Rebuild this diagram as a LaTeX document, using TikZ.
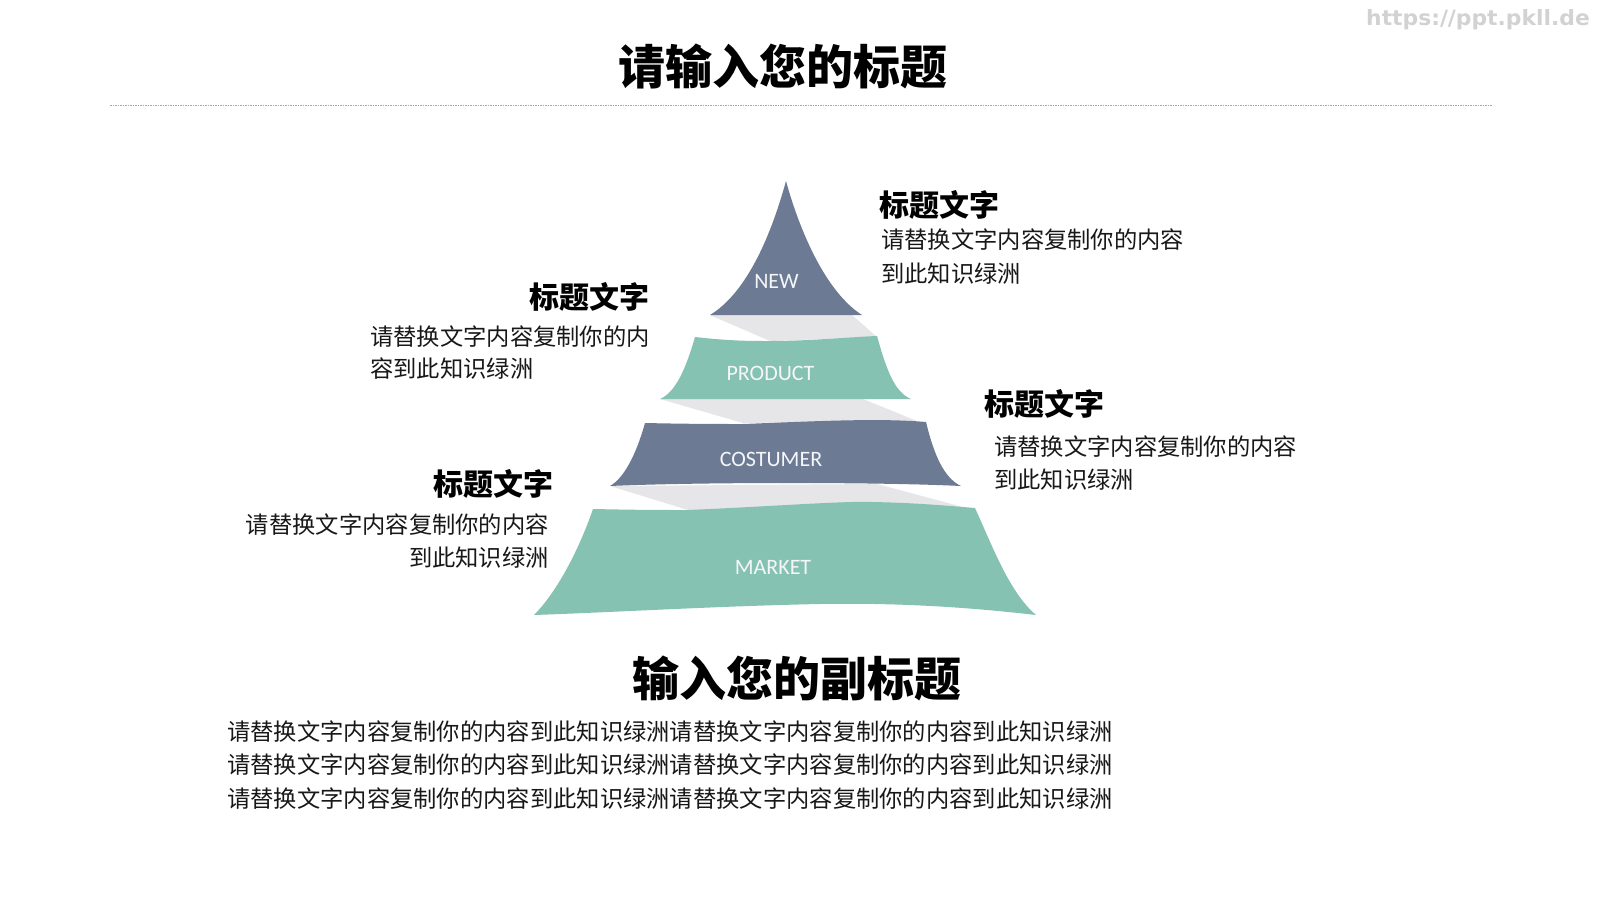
\documentclass[tikz,border=0pt]{standalone}
\usepackage{fontspec}
\setmainfont{Carlito}
\newfontfamily\cjk{Noto Sans CJK SC}
\newfontfamily\wmfont{DejaVu Sans}
\definecolor{slate}{RGB}{108,122,148}
\definecolor{teal2}{RGB}{134,194,177}
\definecolor{band}{RGB}{230,229,232}
\definecolor{bodytxt}{RGB}{24,24,24}
\definecolor{wmgray}{RGB}{210,210,210}
\tikzset{
  bigtitle/.style={font=\cjk\bfseries\fontsize{47}{56}\selectfont, text=black, inner sep=0, anchor=base},
  headtxt/.style={font=\cjk\bfseries\fontsize{30}{36}\selectfont, text=black, inner sep=0},
  bodyline/.style={font=\cjk\fontsize{23.3}{28}\selectfont, text=bodytxt, inner sep=0},
  tierlabel/.style={font=\fontsize{22}{26}\selectfont, text=white!93!slate, inner sep=0, anchor=center},
}
\begin{document}
\begin{tikzpicture}[x=1pt,y=-1pt]
\useasboundingbox (0,0) rectangle (1600,900);
\fill[white] (0,0) rectangle (1600,900);

% watermark
\node[font=\wmfont\bfseries\fontsize{21}{26}\selectfont, text=wmgray, inner sep=0, anchor=center] (wm) at (1478,20) {\scalebox{1.04}[1]{https://ppt.pkll.de}};

% title and rule
\node[bigtitle] (title) at (782.5,84.4) {请输入您的标题};
\draw[gray!70, line width=0.8pt, dash pattern=on 1.5pt off 1pt] (110,105) -- (1492,105);

% gray twisted bands (behind)
\fill[band] (710,315) -- (852,315) -- (877,337) -- (770,341) -- cycle;
\fill[band] (660,399) -- (863,399) -- (917,421) -- (743,423) -- cycle;
\fill[band] (610,486) -- (877,484) -- (963,507) -- (688,510) -- cycle;

% NEW
\fill[slate] (786,181) .. controls (772,232) and (748,292) .. (710,315)
  -- (862,315) .. controls (826,292) and (800,232) .. (786,181) -- cycle;
% PRODUCT
\fill[teal2] (695,337) .. controls (730,341) and (750,341) .. (770,341)
  .. controls (810,341) and (850,337) .. (877,336)
  .. controls (886,368) and (894,392) .. (911,399)
  -- (660,399)
  .. controls (676,392) and (686,368) .. (695,337) -- cycle;
% COSTUMER
\fill[slate] (645,423) .. controls (690,424) and (720,424) .. (743,424)
  .. controls (820,421) and (880,418) .. (926,422)
  .. controls (934,455) and (944,478) .. (961,486)
  .. controls (880,482) and (700,482) .. (610,486)
  .. controls (624,478) and (636,455) .. (645,423) -- cycle;
% MARKET
\fill[teal2] (593,509) .. controls (640,510) and (660,510) .. (688,510)
  .. controls (780,506) and (840,501) .. (873,502)
  .. controls (920,503) and (950,506) .. (975,508)
  .. controls (992,545) and (1009,592) .. (1036,615)
  .. controls (950,605) and (880,603) .. (820,604)
  .. controls (720,606) and (620,612) .. (534,615)
  .. controls (553,596) and (576,558) .. (593,509) -- cycle;

% tier labels
\node[tierlabel] (lnew) at (776.5,281) {NEW};
\node[tierlabel] (lprod) at (770.5,373) {PRODUCT};
\node[tierlabel] (lcost) at (771,459) {COSTUMER};
\node[tierlabel] (lmark) at (773,567) {MARKET};

% right-top block
\node[headtxt, anchor=base west] (h1) at (879,216.4) {标题文字};
\node[bodyline, anchor=base west] (b1a) at (881,248.4) {请替换文字内容复制你的内容};
\node[bodyline, anchor=base west] (b1b) at (881,282) {到此知识绿洲};

% left-upper block
\node[headtxt, anchor=base east] (h2) at (650,308) {标题文字};
\node[bodyline, anchor=base west] (b2a) at (370,345) {请替换文字内容复制你的内};
\node[bodyline, anchor=base west] (b2b) at (370,377.3) {容到此知识绿洲};

% right-middle block
\node[headtxt, anchor=base west] (h3) at (984,415.4) {标题文字};
\node[bodyline, anchor=base west] (b3a) at (994,455) {请替换文字内容复制你的内容};
\node[bodyline, anchor=base west] (b3b) at (994,488.5) {到此知识绿洲};

% left-lower block
\node[headtxt, anchor=base east] (h4) at (554,495) {标题文字};
\node[bodyline, anchor=base east] (b4a) at (549,533) {请替换文字内容复制你的内容};
\node[bodyline, anchor=base east] (b4b) at (549,566) {到此知识绿洲};

% subtitle and paragraph
\node[bigtitle] (sub) at (797,696) {输入您的副标题};
\node[bodyline, anchor=base west] (p1) at (227,740) {请替换文字内容复制你的内容到此知识绿洲请替换文字内容复制你的内容到此知识绿洲};
\node[bodyline, anchor=base west] (p2) at (227,773) {请替换文字内容复制你的内容到此知识绿洲请替换文字内容复制你的内容到此知识绿洲};
\node[bodyline, anchor=base west] (p3) at (227,807) {请替换文字内容复制你的内容到此知识绿洲请替换文字内容复制你的内容到此知识绿洲};
\end{tikzpicture}
\end{document}
